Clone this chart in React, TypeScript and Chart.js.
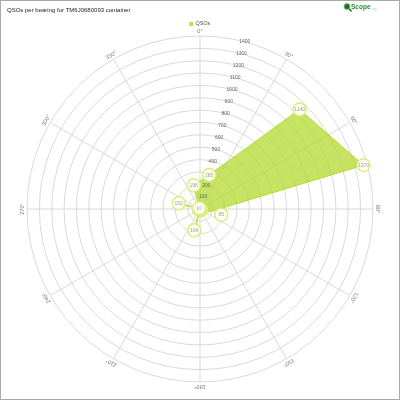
import React, { useEffect, useRef } from 'react';
import { Chart, registerables } from 'chart.js';

Chart.register(...registerables);

const titleText = 'QSOs per bearing for TM6J0680093 container';
const seriesName = 'QSOs';
const spokeLabels = ['0°', '30°', '60°', '90°', '120°', '150°', '180°', '210°', '240°', '270°', '300°', '330°'];
const binLabels = ['15°', '45°', '75°', '105°', '135°', '165°', '195°', '225°', '255°', '285°', '315°', '345°'];
const qsoCounts = [285, 1140, 1370, 85, 10, 12, 164, 8, 6, 150, 10, 198];
const radialMax = 1400;
const radialStep = 100;

const FONT = '"Liberation Sans", Arial, sans-serif';
const GREEN = 'rgba(178, 216, 40, 0.72)';

const allLabels: string[] = [];
const allData: (number | null)[] = [];
spokeLabels.forEach((s, i) => {
  allLabels.push(s);
  allData.push(null);
  allLabels.push(binLabels[i]);
  allData.push(qsoCounts[i]);
});

const overlayPlugin = {
  id: 'overlay',
  afterDatasetsDraw(chart: any) {
    const ctx = chart.ctx as CanvasRenderingContext2D;
    const r = chart.scales.r;
    ctx.save();
    ctx.textAlign = 'center';
    ctx.textBaseline = 'middle';
    // radial tick labels along the 15° line
    ctx.font = `5px ${FONT}`;
    ctx.fillStyle = '#666';
    const a = (15 * Math.PI) / 180;
    r.ticks.forEach((t: any) => {
      if (t.value <= 0) return;
      const d = r.getDistanceFromCenterForValue(t.value);
      ctx.fillText(String(t.value), r.xCenter + d * Math.sin(a), r.yCenter - d * Math.cos(a));
    });
    // spoke labels, rotated
    ctx.font = `5.5px ${FONT}`;
    ctx.fillStyle = '#777';
    for (let k = 0; k < spokeLabels.length; k++) {
      const p = r.getPointPosition(2 * k, r.drawingArea + 4.5);
      ctx.save();
      ctx.translate(p.x, p.y);
      ctx.rotate(p.angle + Math.PI / 2);
      ctx.fillText(spokeLabels[k], 0, 0);
      ctx.restore();
    }
    // value markers
    const data = chart.data.datasets[0].data as (number | null)[];
    data.forEach((v, i) => {
      if (v == null) return;
      const d = r.getDistanceFromCenterForValue(v);
      const dl = v >= 50 ? Math.max(d, 22) : d;
      const p = r.getPointPosition(i, dl);
      ctx.beginPath();
      ctx.arc(p.x, p.y, 6.5, 0, Math.PI * 2);
      ctx.fillStyle = '#fff';
      ctx.fill();
      ctx.lineWidth = 1.5;
      ctx.strokeStyle = '#d8ef78';
      ctx.stroke();
      ctx.font = `5px ${FONT}`;
      ctx.fillStyle = '#9aa56a';
      ctx.fillText(String(v), p.x, p.y + 0.3);
    });
    ctx.restore();
  },
  afterDraw(chart: any) {
    const ctx = chart.ctx as CanvasRenderingContext2D;
    ctx.save();
    // frame
    ctx.strokeStyle = '#aaa';
    ctx.lineWidth = 1;
    ctx.strokeRect(0.5, 0.5, 399, 399);
    // logo
    ctx.beginPath();
    ctx.arc(347, 6.5, 3, 0, Math.PI * 2);
    ctx.fillStyle = '#1f6b2a';
    ctx.fill();
    ctx.lineWidth = 1;
    ctx.strokeStyle = '#6ccf6c';
    ctx.stroke();
    ctx.beginPath();
    ctx.moveTo(349.3, 8.8);
    ctx.lineTo(351.5, 11.5);
    ctx.strokeStyle = '#1f6b2a';
    ctx.lineWidth = 1.4;
    ctx.stroke();
    ctx.textAlign = 'left';
    ctx.textBaseline = 'middle';
    ctx.font = `bold 6.5px ${FONT}`;
    ctx.fillStyle = '#2f8a3a';
    ctx.fillText('Scope', 351, 7);
    ctx.font = `3px ${FONT}`;
    ctx.fillStyle = '#a6d0a6';
    ctx.fillText('.org', 371.5, 9);
    ctx.restore();
  },
};

export default function App() {
  const ref = useRef<HTMLCanvasElement | null>(null);
  useEffect(() => {
    document.body.style.margin = '0';
    if (!ref.current) return;
    Chart.defaults.font.family = FONT;
    const chart = new Chart(ref.current, {
      type: 'radar',
      data: {
        labels: allLabels,
        datasets: [
          {
            label: seriesName,
            data: allData,
            backgroundColor: GREEN,
            borderColor: 'rgba(178, 216, 40, 0.9)',
            borderWidth: 1,
            fill: 'origin',
            spanGaps: true,
            pointRadius: 0,
            pointHitRadius: 6,
          },
        ],
      },
      options: {
        responsive: false,
        animation: false,
        layout: { padding: { left: 7, right: 7, top: 0, bottom: 17 } },
        scales: {
          r: {
            min: 0,
            max: radialMax,
            ticks: { display: false, stepSize: radialStep },
            grid: { color: '#d9d9d9', lineWidth: 1, circular: true },
            angleLines: {
              display: true,
              lineWidth: 1,
              color: (c: any) => (c.index % 2 === 0 ? '#d9d9d9' : 'rgba(0,0,0,0)'),
            },
            pointLabels: { display: false },
          },
        },
        plugins: {
          title: {
            display: true,
            text: titleText,
            align: 'start',
            color: '#222',
            font: { size: 6, weight: 'normal', family: FONT },
            padding: { top: 7, bottom: 3 },
          },
          legend: {
            display: true,
            position: 'top',
            labels: { boxWidth: 3, boxHeight: 3, padding: 4, color: '#555', font: { size: 5.5, family: FONT } },
          },
          tooltip: { enabled: true },
        },
      },
      plugins: [overlayPlugin],
    });
    return () => chart.destroy();
  }, []);
  return (
    <div style={{ position: 'fixed', left: 0, top: 0, width: 400, height: 400 }}>
      <canvas ref={ref} width={400} height={400} style={{ display: 'block' }} />
    </div>
  );
}
